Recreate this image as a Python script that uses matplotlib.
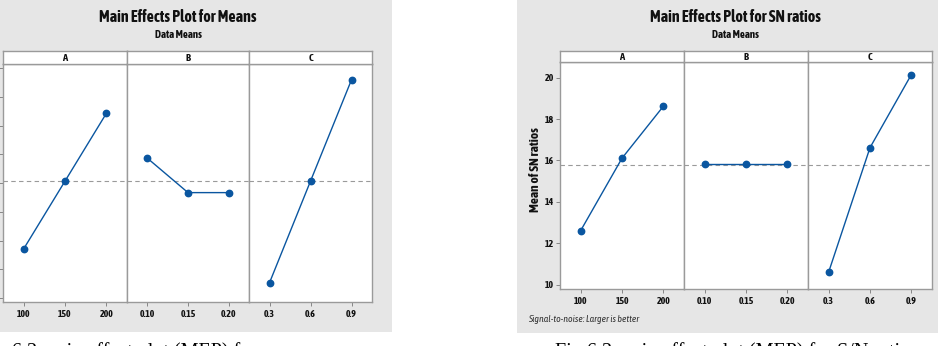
import matplotlib
matplotlib.use("Agg")
import matplotlib.pyplot as plt
import matplotlib.patheffects as pe
from matplotlib import font_manager
from matplotlib.patches import Rectangle

# levels of the three factors
levels_A = ['100', '150', '200']
levels_B = ['0.10', '0.15', '0.20']
levels_C = ['0.3', '0.6', '0.9']

# main effects for means
means_A = [3.71, 6.07, 8.43]
means_B = [6.87, 5.67, 5.67]
means_C = [2.53, 6.07, 9.60]

# main effects for SN ratios
sn_A = [12.61, 16.11, 18.62]
sn_B = [15.82, 15.82, 15.82]
sn_C = [10.61, 16.62, 20.15]

means_yticks = [2, 3, 4, 5, 6, 7, 8, 9, 10]
sn_yticks = [10, 12, 14, 16, 18, 20]

W, H = 938, 346

# a narrow sans font looks closer to Minitab, use it when there is one
narrow = None
narrow_bold = False
for f in font_manager.fontManager.ttflist:
    if 'Narrow' in f.name or 'Condensed' in f.name:
        w = f.weight if isinstance(f.weight, int) else (700 if 'bold' in str(f.weight) else 400)
        if narrow is None or (w >= 600 and not narrow_bold):
            narrow = f.name
            narrow_bold = w >= 600
if narrow:
    NARROW = [narrow, 'DejaVu Sans']
    K = 1.3
else:
    NARROW = ['DejaVu Sans']
    K = 1.0

# fake a heavier stroke when the narrow font has no bold face
if narrow and not narrow_bold:
    BOLD_FX = [pe.withStroke(linewidth=0.7, foreground='#111111')]
else:
    BOLD_FX = []
SERIF = ['Liberation Serif', 'DejaVu Serif']

BLUE = '#0a56a0'
GRAY_BG = '#e6e6e6'
EDGE = '#9a9a9a'
TXT = '#111111'


def box(x0, y0, x1, y1):
    # pixel box (top-left origin) -> figure fraction rect
    return [x0 / W, 1 - y1 / H, (x1 - x0) / W, (y1 - y0) / H]


def fx(x):
    return x / W


def fy(y):
    return 1 - y / H


fig = plt.figure(figsize=(W / 100, H / 100), dpi=100, facecolor='white')

# gray backgrounds of the two Minitab graphs
fig.patches.append(Rectangle((0, fy(332)), fx(392), 332 / H, transform=fig.transFigure,
                             facecolor=GRAY_BG, edgecolor='none', zorder=-5))
fig.patches.append(Rectangle((fx(517), fy(333)), fx(938 - 517), 333 / H, transform=fig.transFigure,
                             facecolor=GRAY_BG, edgecolor='none', zorder=-5))


def main_effects(xs, top, strip_top, bottom, series, ylim, yticks, show_ylabels):
    levels = [levels_A, levels_B, levels_C]
    grand = sum(sum(s) for s in series) / 9.0
    for i, (label, vals) in enumerate(zip(['A', 'B', 'C'], series)):
        ax = fig.add_axes(box(xs[i], top, xs[i + 1], bottom))
        ax.set_facecolor('white')
        ax.plot(range(3), vals, color=BLUE, lw=1.0, marker='o', ms=4.6, mfc=BLUE, mec=BLUE, zorder=3)
        ax.axhline(grand, color='#9a9a9a', lw=0.8, ls=(0, (4, 3)), zorder=2)
        ax.set_xlim(-0.5, 2.5)
        ax.set_ylim(*ylim)
        ax.set_xticks(range(3))
        ax.set_xticklabels(levels[i], family=NARROW, fontsize=5.5 * K, fontweight='bold',
                           color=TXT)
        ax.tick_params(axis='x', length=3, width=0.6, color='#777777', pad=3)
        if i == 0:
            ax.set_yticks(yticks)
            if show_ylabels:
                ax.set_yticklabels([str(t) for t in yticks], family=NARROW, fontsize=5.5 * K,
                                   fontweight='bold', color=TXT)
            else:
                ax.set_yticklabels([])
            ax.tick_params(axis='y', length=3, width=0.6, color='#777777', pad=1.5)
        else:
            ax.set_yticks([])
        for t in ax.get_xticklabels() + ax.get_yticklabels():
            t.set_path_effects([pe.withStroke(linewidth=0.4, foreground=TXT)] if BOLD_FX else [])
        for sp in ax.spines.values():
            sp.set_color(EDGE)
            sp.set_linewidth(1.0)
        # strip header
        st = fig.add_axes(box(xs[i], strip_top, xs[i + 1], top))
        st.set_facecolor('white')
        st.set_xticks([])
        st.set_yticks([])
        for sp in st.spines.values():
            sp.set_color(EDGE)
            sp.set_linewidth(1.0)
        st.text(0.5, 0.45, label, ha='center', va='center', family=NARROW, fontsize=5.8 * K,
                fontweight='bold', color=TXT, transform=st.transAxes, path_effects=BOLD_FX)


# left graph: means (its y labels lie outside the cropped picture)
main_effects([3, 127, 249, 372], 64, 51, 302, [means_A, means_B, means_C],
             (1.86, 10.15), means_yticks, False)
fig.text(fx(178), fy(17), 'Main Effects Plot for Means', ha='center', va='center',
         family=NARROW, fontsize=8.9 * K, fontweight='bold', color=TXT, path_effects=BOLD_FX)
fig.text(fx(178), fy(34), 'Data Means', ha='center', va='center',
         family=NARROW, fontsize=6.0 * K, fontweight='bold', color=TXT, path_effects=BOLD_FX)

# right graph: SN ratios
main_effects([560, 684, 808, 932], 62, 51, 289, [sn_A, sn_B, sn_C],
             (9.79, 20.76), sn_yticks, True)
fig.text(fx(735), fy(17), 'Main Effects Plot for SN ratios', ha='center', va='center',
         family=NARROW, fontsize=8.9 * K, fontweight='bold', color=TXT, path_effects=BOLD_FX)
fig.text(fx(735), fy(34), 'Data Means', ha='center', va='center',
         family=NARROW, fontsize=6.0 * K, fontweight='bold', color=TXT, path_effects=BOLD_FX)
fig.text(fx(535), fy(170), 'Mean of SN ratios', ha='center', va='center', rotation=90,
         family=NARROW, fontsize=7.4 * K, fontweight='bold', color=TXT, path_effects=BOLD_FX)
fig.text(fx(528), fy(319), 'Signal-to-noise: Larger is better', ha='left', va='center',
         family=NARROW, fontsize=5.4 * K, style='italic', color='#333333')

# captions, cut off by the bottom edge of the picture
fig.text(fx(313), fy(357), 'Fig 6.2 main effect plot (MEP) for means', ha='right', va='baseline',
         family=SERIF, fontsize=14.5, color='black')
fig.text(fx(555), fy(357), 'Fig 6.2 main effect plot (MEP) for S/N ratios', ha='left', va='baseline',
         family=SERIF, fontsize=14.5, color='black')

fig.savefig('out.png', dpi=100, facecolor='white')
